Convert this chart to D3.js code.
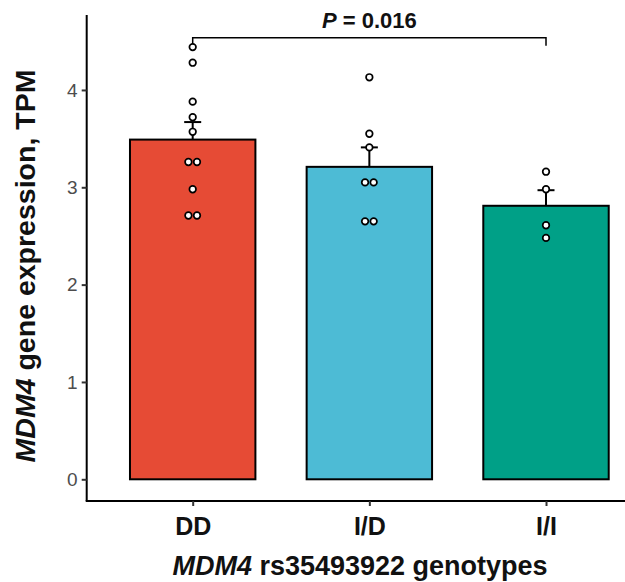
<!DOCTYPE html>
<html><head><meta charset="utf-8">
<script src="https://cdn.jsdelivr.net/npm/d3@7"></script>
<style>body{margin:0;background:#fff}svg{display:block}text{font-family:"Liberation Sans",Arial,Helvetica,sans-serif}</style>
</head><body><div id="c"></div>
<script>
const categories = ["DD", "I/D", "I/I"];
const means = [3.49, 3.21, 2.81];
const seUpper = [0.18, 0.20, 0.16];
const colors = ["#E64B35", "#4DBBD5", "#00A087"];
const pointsDD = [4.44, 4.28, 3.88, 3.72, 3.57, 3.26, 3.26, 2.98, 2.71, 2.71];
const pointsID = [4.13, 3.55, 3.41, 3.05, 3.05, 2.65, 2.65];
const pointsII = [3.16, 2.98, 2.61, 2.48];
const yTicks = [0, 1, 2, 3, 4];
const pLabel = "0.016";

const points = [pointsDD, pointsID, pointsII];
const W = 625, H = 582;
const svg = d3.select("#c").append("svg").attr("width", W).attr("height", H);

const x = d3.scalePoint().domain(categories).range([86.7, 652]).padding(0.6);
const y = d3.scaleLinear().domain([-0.223, 4.77]).range([501, 15]);
const step = x.step();
const bw = step * 0.71;

// error bars (upper only, behind bars)
const g = svg.append("g");
categories.forEach((c, i) => {
  const cx = x(c);
  g.append("line").attr("x1", cx).attr("x2", cx).attr("y1", y(means[i])).attr("y2", y(means[i] + seUpper[i]))
    .attr("stroke", "#000").attr("stroke-width", 2);
  g.append("line").attr("x1", cx - 8.5).attr("x2", cx + 8.5).attr("y1", y(means[i] + seUpper[i])).attr("y2", y(means[i] + seUpper[i]))
    .attr("stroke", "#000").attr("stroke-width", 2);
});

// bars
svg.append("g").selectAll("rect").data(categories).join("rect")
  .attr("x", d => x(d) - bw / 2).attr("width", bw)
  .attr("y", (d, i) => y(means[i])).attr("height", (d, i) => y(0) - y(means[i]))
  .attr("fill", (d, i) => colors[i]).attr("stroke", "#000").attr("stroke-width", 2);

// points (dodge duplicates)
categories.forEach((c, i) => {
  const vals = points[i];
  const counts = {};
  vals.forEach(v => counts[v] = (counts[v] || 0) + 1);
  const seen = {};
  vals.forEach(v => {
    let off = 0;
    if (counts[v] > 1) { const k = seen[v] || 0; seen[v] = k + 1; off = (k - (counts[v] - 1) / 2) * 8.6; }
    svg.append("circle").attr("cx", x(c) + off).attr("cy", y(v)).attr("r", 3.3)
      .attr("fill", "#fff").attr("stroke", "#000").attr("stroke-width", 1.7);
  });
});

// axes
const yAxis = svg.append("g").attr("transform", "translate(86.7,0)")
  .call(d3.axisLeft(y).tickValues(yTicks).tickSize(5).tickPadding(4).tickFormat(d3.format("d")));
yAxis.select(".domain").attr("d", `M0,${y.range()[1]}V${y.range()[0]}`).attr("stroke", "#000").attr("stroke-width", 2);
yAxis.selectAll(".tick line").attr("stroke", "#333").attr("stroke-width", 2);
yAxis.selectAll(".tick text").attr("font-size", 19).attr("fill", "#4d4d4d");

const xAxis = svg.append("g").attr("transform", "translate(0,501)")
  .call(d3.axisBottom(x).tickSize(5).tickPadding(11));
xAxis.select(".domain").attr("d", `M85.7,0H${W}`).attr("stroke", "#000").attr("stroke-width", 2);
xAxis.selectAll(".tick line").attr("stroke", "#333").attr("stroke-width", 2);
xAxis.selectAll(".tick text").attr("font-size", 25).attr("font-weight", "bold").attr("fill", "#111");

// bracket
const bracketY = 37.7;
const x1 = x(categories[0]), x2 = x(categories[2]);
svg.append("path").attr("d", `M${x1},${y(pointsDD[0]) - 3}V${bracketY}H${x2}V${bracketY + 8}`)
  .attr("fill", "none").attr("stroke", "#000").attr("stroke-width", 1.5);
const pt = svg.append("text").attr("x", (x1 + x2) / 2).attr("y", 27.7).attr("text-anchor", "middle")
  .attr("font-size", 22).attr("font-weight", "bold").attr("fill", "#111");
pt.append("tspan").attr("font-style", "italic").text("P");
pt.append("tspan").text(" = " + pLabel);

// axis titles
const xt = svg.append("text").attr("x", 360).attr("y", 575).attr("text-anchor", "middle")
  .attr("font-size", 27).attr("font-weight", "bold").attr("fill", "#111");
xt.append("tspan").attr("font-style", "italic").text("MDM4");
xt.append("tspan").text(" rs35493922 genotypes");

const yt = svg.append("text").attr("transform", "translate(35,266) rotate(-90)").attr("text-anchor", "middle")
  .attr("font-size", 28.5).attr("font-weight", "bold").attr("fill", "#111");
yt.append("tspan").attr("font-style", "italic").text("MDM4");
yt.append("tspan").text(" gene expression, TPM");
</script></body></html>
